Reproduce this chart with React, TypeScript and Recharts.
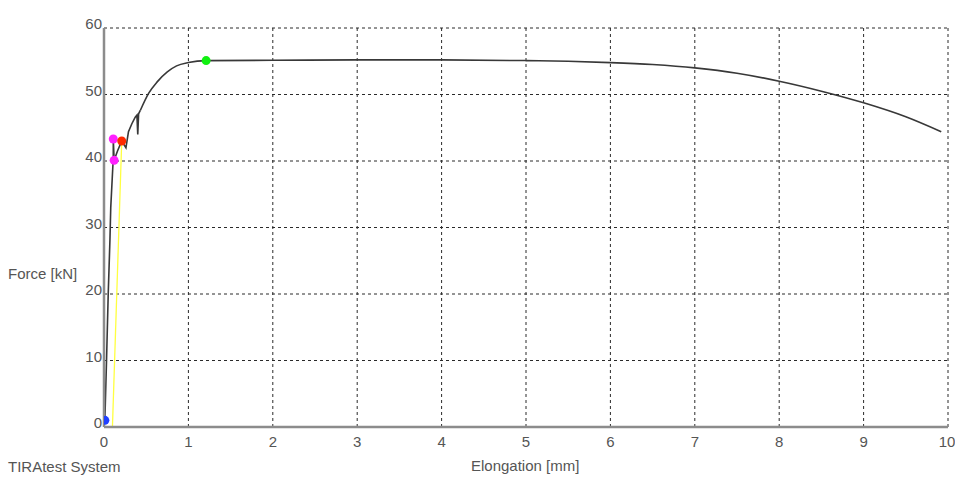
import React from 'react';
import { ComposedChart, Line, Scatter, XAxis, YAxis, CartesianGrid } from 'recharts';

// tensile test curve
const elongation = [
  0, 0.01, 0.03, 0.05, 0.07, 0.08, 0.1, 0.11, 0.11, 0.12, 0.16, 0.21, 0.26, 0.29, 0.33, 0.37,
  0.39, 0.4, 0.41, 0.43, 0.53, 0.63, 0.75, 0.86, 1.0, 1.21, 2, 3, 4, 5, 5.5, 6, 6.5, 7, 7.5, 8,
  8.5, 9, 9.5, 9.92
];
const force = [
  0, 1, 10, 20, 28, 33, 38, 40.5, 43.3, 40.1, 41.5, 43, 42, 44.4, 45.6, 46.6,
  46.9, 44, 47.1, 47.6, 50.2, 51.9, 53.4, 54.3, 54.8, 55.1, 55.15, 55.2, 55.2, 55.1, 55.0, 54.8, 54.5, 54.0, 53.2, 52.0,
  50.5, 48.75, 46.65, 44.4
];
// index where the smooth hardening part starts
const hardeningStart = 19;

// offset (modulus) line
const offsetElongation = [0.1, 0.21];
const offsetForce = [0, 43];

// evaluation markers
const markerElongation = [0.01, 0.11, 0.12, 0.21, 1.21];
const markerForce = [1, 43.3, 40.1, 43, 55.1];
const markerColors = ['#2040ff', '#ff20ff', '#ff20ff', '#ff2a00', '#10f010'];

const xTicks = [0, 1, 2, 3, 4, 5, 6, 7, 8, 9, 10];
const yTicks = [0, 10, 20, 30, 40, 50, 60];

const FONT = '"Liberation Sans", Arial, sans-serif';
const TEXT_COLOR = '#555';

const curve = elongation.map((x, i) => ({ x, y: force[i] }));
const yieldPart = curve.slice(0, hardeningStart + 1);
const hardeningPart = curve.slice(hardeningStart);
const offsetLine = offsetElongation.map((x, i) => ({ x, y: offsetForce[i] }));

const XTick = (props: any) => (
  <text x={props.x} y={props.y + 20} textAnchor="middle" fontSize={15} fontFamily={FONT} fill={TEXT_COLOR}>
    {props.payload.value}
  </text>
);

const YTick = (props: any) => (
  <text x={props.x - 2} y={props.y + 1} textAnchor="end" fontSize={15} fontFamily={FONT} fill={TEXT_COLOR}>
    {props.payload.value}
  </text>
);

export default function App() {
  return (
    <div style={{ position: 'absolute', left: 0, top: 0, width: 955, height: 478, background: '#fff' }}>
      <ComposedChart width={955} height={478} margin={{ top: 28, right: 7, bottom: 21, left: 74 }}>
        <CartesianGrid stroke="#2a2a2a" strokeDasharray="3 3" />
        <XAxis
          type="number"
          dataKey="x"
          domain={[0, 10]}
          ticks={xTicks}
          height={30}
          tickSize={0}
          tickMargin={0}
          tickLine={false}
          axisLine={{ stroke: '#8c8c8c', strokeWidth: 2.5 }}
          tick={XTick}
          allowDataOverflow
        />
        <YAxis
          type="number"
          dataKey="y"
          domain={[0, 60]}
          ticks={yTicks}
          width={30}
          tickSize={0}
          tickMargin={0}
          tickLine={false}
          axisLine={{ stroke: '#8c8c8c', strokeWidth: 2.5 }}
          tick={YTick}
          allowDataOverflow
        />
        <Line
          data={offsetLine}
          dataKey="y"
          type="linear"
          stroke="#ffff40"
          strokeWidth={1.3}
          dot={false}
          isAnimationActive={false}
        />
        <Line
          data={yieldPart}
          dataKey="y"
          type="linear"
          stroke="#383838"
          strokeWidth={1.6}
          dot={false}
          isAnimationActive={false}
        />
        <Line
          data={hardeningPart}
          dataKey="y"
          type="monotoneX"
          stroke="#383838"
          strokeWidth={1.6}
          dot={false}
          isAnimationActive={false}
        />
        {markerElongation.map((x, i) => (
          <Scatter
            key={i}
            data={[{ x, y: markerForce[i] }]}
            dataKey="y"
            fill={markerColors[i]}
            isAnimationActive={false}
            shape={(p: any) => <circle cx={p.cx} cy={p.cy} r={4.5} fill={markerColors[i]} />}
          />
        ))}
      </ComposedChart>
      <svg width={955} height={478} style={{ position: 'absolute', left: 0, top: 0, pointerEvents: 'none' }}>
        <text x={8} y={279} fontSize={15} fontFamily={FONT} fill={TEXT_COLOR}>Force [kN]</text>
        <text x={8} y={472} fontSize={15} fontFamily={FONT} fill={TEXT_COLOR}>TIRAtest System</text>
        <text x={471} y={471} fontSize={15} fontFamily={FONT} fill={TEXT_COLOR}>Elongation [mm]</text>
      </svg>
    </div>
  );
}
